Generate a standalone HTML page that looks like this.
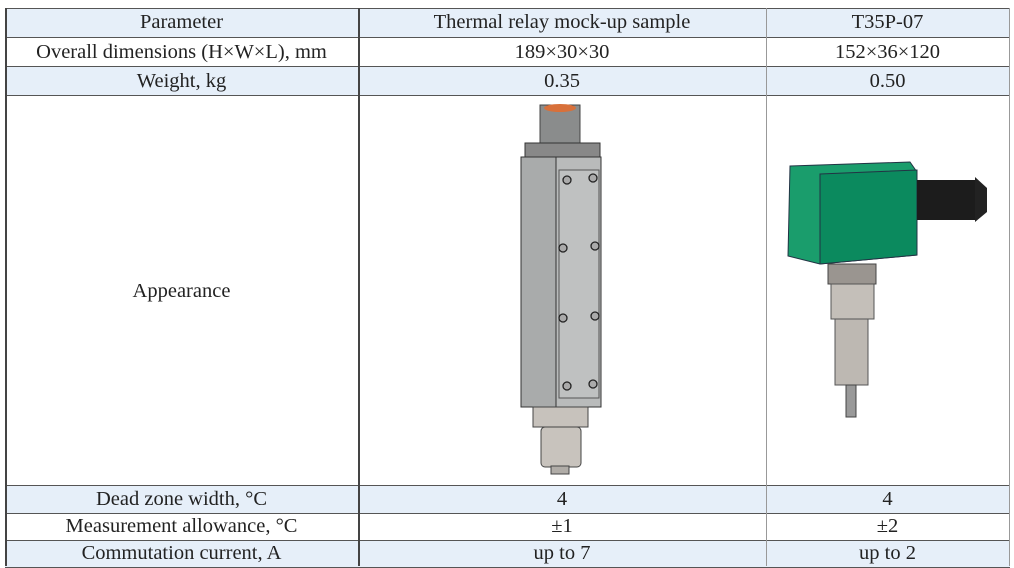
<!DOCTYPE html>
<html><head><style>
body{margin:0;width:1014px;height:567px;background:#fff;position:relative;overflow:hidden;font-family:"Liberation Serif",serif;font-size:20.5px;color:#222}
.r{position:absolute;left:5px;width:1005px;border-top:1px solid #555}
.b{background:#e6eff9}
.c{position:absolute;text-align:center;line-height:28px}
.v{position:absolute;top:8px;height:558px;border-left:1px solid #555}
</style></head><body>
<div class="r b" style="top:8px;height:29px"></div>
<div class="r" style="top:37px;height:29px"></div>
<div class="r b" style="top:66px;height:29px"></div>
<div class="r" style="top:95px;height:390px"></div>
<div class="r b" style="top:485px;height:28px"></div>
<div class="r" style="top:513px;height:27px"></div>
<div class="r b" style="top:540px;height:26px;border-bottom:1px solid #555"></div>
<div class="v" style="left:5px;border-left:2px solid #444"></div>
<div class="v" style="left:358px;border-left:2px solid #444"></div>
<div class="v" style="left:766px;border-color:#999"></div>
<div class="v" style="left:1009px;border-color:#999"></div>

<div class="c" style="left:5px;width:353px;top:8px">Parameter</div>
<div class="c" style="left:358px;width:408px;top:8px">Thermal relay mock-up sample</div>
<div class="c" style="left:766px;width:243px;top:8px">T35P-07</div>
<div class="c" style="left:5px;width:353px;top:38px">Overall dimensions (H×W×L), mm</div>
<div class="c" style="left:358px;width:408px;top:38px">189×30×30</div>
<div class="c" style="left:766px;width:243px;top:38px">152×36×120</div>
<div class="c" style="left:5px;width:353px;top:67px">Weight, kg</div>
<div class="c" style="left:358px;width:408px;top:67px">0.35</div>
<div class="c" style="left:766px;width:243px;top:67px">0.50</div>
<div class="c" style="left:5px;width:353px;top:277px">Appearance</div>
<div class="c" style="left:5px;width:353px;top:485px">Dead zone width, °C</div>
<div class="c" style="left:358px;width:408px;top:485px">4</div>
<div class="c" style="left:766px;width:243px;top:485px">4</div>
<div class="c" style="left:5px;width:353px;top:512px">Measurement allowance, °C</div>
<div class="c" style="left:358px;width:408px;top:512px">±1</div>
<div class="c" style="left:766px;width:243px;top:512px">±2</div>
<div class="c" style="left:5px;width:353px;top:539px">Commutation current, A</div>
<div class="c" style="left:358px;width:408px;top:539px">up to 7</div>
<div class="c" style="left:766px;width:243px;top:539px">up to 2</div>

<svg style="position:absolute;left:0;top:0" width="1014" height="567">
 <rect x="540" y="105" width="40" height="40" fill="#8a8c8c" stroke="#444"/>
 <ellipse cx="560" cy="108" rx="16" ry="4" fill="#d8703a"/>
 <rect x="525" y="143" width="75" height="16" fill="#888" stroke="#333"/>
 <rect x="521" y="157" width="35" height="250" fill="#a9abab" stroke="#333"/>
 <rect x="556" y="157" width="45" height="250" fill="#b9bbbb" stroke="#333"/>
 <rect x="559" y="170" width="40" height="228" fill="#bfc1c1" stroke="#555"/>
 <g fill="#aaa" stroke="#222" stroke-width="1.3">
  <circle cx="567" cy="180" r="4"/><circle cx="593" cy="178" r="4"/>
  <circle cx="563" cy="248" r="4"/><circle cx="595" cy="246" r="4"/>
  <circle cx="563" cy="318" r="4"/><circle cx="595" cy="316" r="4"/>
  <circle cx="567" cy="386" r="4"/><circle cx="593" cy="384" r="4"/>
 </g>
 <rect x="533" y="407" width="55" height="20" fill="#c7c2bc" stroke="#444"/>
 <rect x="541" y="427" width="40" height="40" rx="4" fill="#c8c3bd" stroke="#444"/>
 <rect x="551" y="466" width="18" height="8" fill="#b0aca7" stroke="#444"/>
 <polygon points="790,166 910,162 917,172 917,255 820,264 788,256" fill="#1a9d6c" stroke="#234"/>
 <polygon points="820,174 917,170 917,255 820,264" fill="#0b8a5e" stroke="#234"/>
 <rect x="917" y="180" width="60" height="40" fill="#1c1c1c"/>
 <polygon points="975,177 987,188 987,212 975,222" fill="#222"/>
 <rect x="828" y="264" width="48" height="20" fill="#9a9590" stroke="#444"/>
 <rect x="831" y="284" width="43" height="35" fill="#c4bfb9" stroke="#555"/>
 <rect x="835" y="319" width="33" height="66" fill="#bdb8b2" stroke="#555"/>
 <rect x="846" y="385" width="10" height="32" fill="#999" stroke="#444"/>
</svg>
</body></html>
